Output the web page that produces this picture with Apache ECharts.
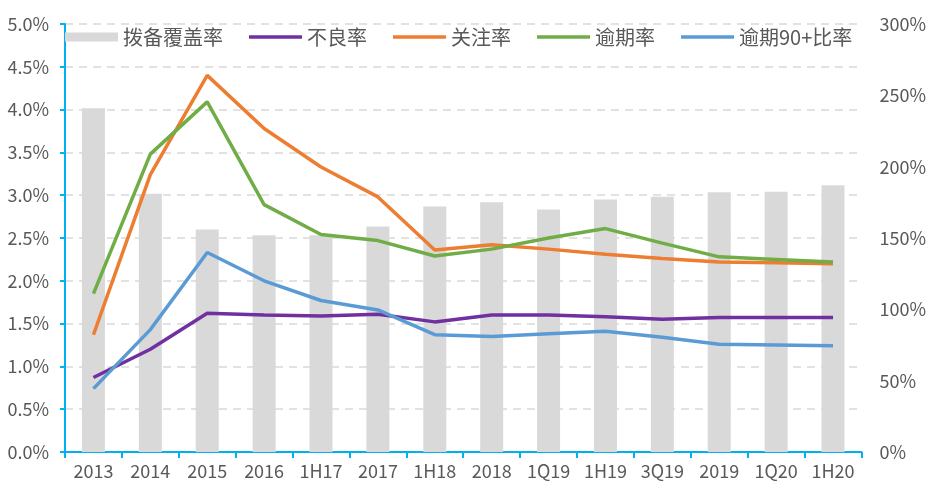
<!DOCTYPE html>
<html>
<head>
<meta charset="utf-8">
<script src="https://cdn.jsdelivr.net/npm/echarts@6/dist/echarts.min.js"></script>
<style>
html,body{margin:0;padding:0;background:#fff;}
#chart{width:929px;height:482px;}
</style>
</head>
<body>
<div id="chart"></div>
<script>
const categories = ['2013','2014','2015','2016','1H17','2017','1H18','2018','1Q19','1H19','3Q19','2019','1Q20','1H20'];
const coverage = [241, 181, 156, 152, 152, 158, 172, 175, 170, 177, 179, 182, 182.5, 187];
const nplRatio = [0.87, 1.20, 1.62, 1.60, 1.59, 1.61, 1.52, 1.60, 1.60, 1.58, 1.55, 1.57, 1.57, 1.57];
const specialMention = [1.37, 3.24, 4.40, 3.78, 3.33, 2.98, 2.36, 2.42, 2.37, 2.31, 2.26, 2.22, 2.21, 2.20];
const overdue = [1.85, 3.48, 4.09, 2.89, 2.54, 2.47, 2.29, 2.37, 2.50, 2.61, 2.44, 2.28, 2.25, 2.22];
const overdue90 = [0.74, 1.43, 2.33, 2.00, 1.77, 1.66, 1.37, 1.35, 1.38, 1.41, 1.34, 1.26, 1.25, 1.24];

const font = '"Noto Sans CJK SC", "Noto Sans", sans-serif';
const labelColor = '#595959';
const axisBlue = '#00B0F0';
const colors = {bar: '#D9D9D9', npl: '#7030A0', sm: '#ED7D31', od: '#70AD47', od90: '#5B9BD5'};
const lineIcon = 'path://M0,0H53V3.4H0Z';

const chart = echarts.init(document.getElementById('chart'), null, {renderer: 'canvas'});
const lineSeries = (name, data, color) => ({
  name, type: 'line', data, yAxisIndex: 0, symbol: 'none',
  lineStyle: {color, width: 3.5}, itemStyle: {color}, z: 3
});
const lineLegend = (name, color) => ({name, icon: lineIcon, itemStyle: {color, borderWidth: 0}});
chart.setOption({
  animation: false,
  backgroundColor: '#fff',
  textStyle: {fontFamily: font},
  grid: {left: 65, right: 64, top: 24, bottom: 30, containLabel: false},
  legend: {
    left: 60, top: 22, itemWidth: 53, itemHeight: 9, itemGap: 26,
    textStyle: {fontFamily: font, fontSize: 20, color: labelColor},
    data: [
      {name: '拨备覆盖率', icon: 'rect', itemStyle: {color: colors.bar}},
      lineLegend('不良率', colors.npl),
      lineLegend('关注率', colors.sm),
      lineLegend('逾期率', colors.od),
      lineLegend('逾期90+比率', colors.od90)
    ]
  },
  xAxis: {
    type: 'category', data: categories,
    axisLine: {lineStyle: {color: axisBlue, width: 2}},
    axisTick: {show: true, length: 6, lineStyle: {color: axisBlue, width: 2}},
    axisLabel: {fontFamily: font, fontSize: 18, color: labelColor, margin: 10, interval: 0}
  },
  yAxis: [
    {
      type: 'value', min: 0, max: 5, interval: 0.5,
      axisLine: {show: true, lineStyle: {color: axisBlue, width: 2}},
      axisTick: {show: true, length: 5, lineStyle: {color: axisBlue, width: 2}},
      axisLabel: {fontFamily: font, fontSize: 18, color: labelColor, margin: 16,
        formatter: v => v.toFixed(1) + '%'},
      splitLine: {show: true, lineStyle: {color: '#D9D9D9', width: 1.5, type: [8, 6]}}
    },
    {
      type: 'value', min: 0, max: 300, interval: 50, position: 'right',
      axisLine: {show: false}, axisTick: {show: false},
      axisLabel: {fontFamily: font, fontSize: 18, color: labelColor, margin: 18,
        formatter: v => v + '%'},
      splitLine: {show: false}
    }
  ],
  series: [
    {name: '拨备覆盖率', type: 'bar', data: coverage, yAxisIndex: 1, barWidth: 23,
      itemStyle: {color: colors.bar}, z: 1},
    lineSeries('不良率', nplRatio, colors.npl),
    lineSeries('关注率', specialMention, colors.sm),
    lineSeries('逾期率', overdue, colors.od),
    lineSeries('逾期90+比率', overdue90, colors.od90)
  ]
});
</script>
</body>
</html>
